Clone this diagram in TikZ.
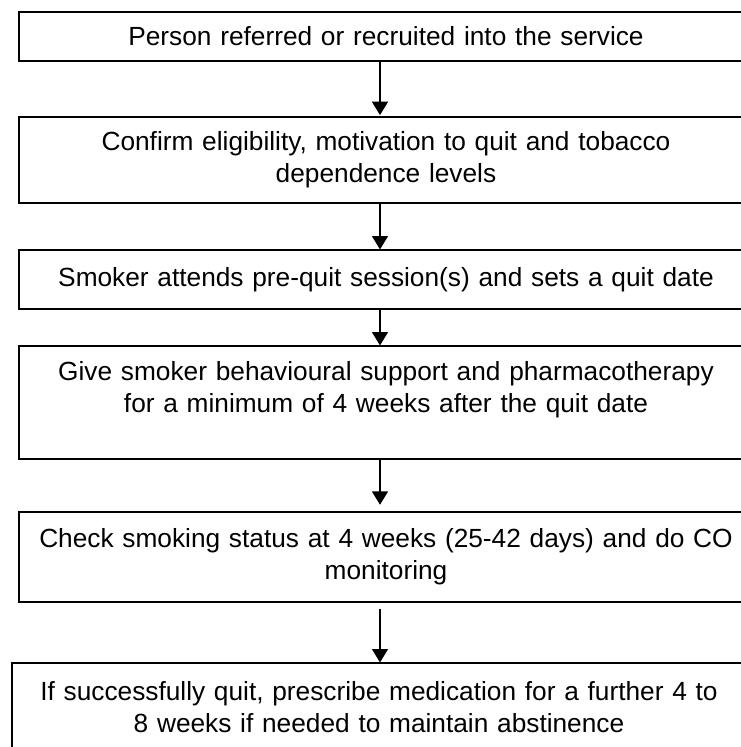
\documentclass[tikz,border=0pt]{standalone}
\usepackage{fontspec}
\setmainfont{Liberation Sans}
\usetikzlibrary{arrows.meta}

\begin{document}
\begin{tikzpicture}[x=0.75pt, y=-0.75pt,
  stage/.style={draw, line width=0.9pt, rectangle, inner sep=0pt, minimum width=550.5pt,
    text width=548pt, align=center, font=\fontsize{19.7}{24}\selectfont},
  flow/.style={line width=0.9pt, -{Triangle[width=12pt, length=10pt]}}]
\useasboundingbox (0,0) rectangle (741,747);
\clip (0,0) rectangle (741,747);
\node[stage, minimum height=36.75pt] (referred) at (386, 36.5) {Person referred or recruited into the service};
\node[stage, minimum height=64.5pt] (eligible) at (386, 160) {Confirm eligibility, motivation to quit and tobacco\\ dependence levels};
\node[stage, minimum height=44.25pt] (prequit) at (386, 279.5) {Smoker attends pre-quit session(s) and sets a quit date};
\node[stage, minimum height=84.75pt] (support) at (386, 402.5) {Give smoker behavioural support and pharmacotherapy\\ for a minimum of 4 weeks after the quit date\\ \mbox{}};
\node[stage, minimum height=67.5pt] (check) at (386, 557) {Check smoking status at 4 weeks (25-42 days) and do CO\\ monitoring};
\node[stage, minimum height=66pt] (further) at (379, 707) {If successfully quit, prescribe medication for a further 4 to\\ 8 weeks if needed to maintain abstinence};
\coordinate (axis) at (380, 0);
\draw[flow] (referred.south -| axis) -- ([yshift=1pt]eligible.north -| axis);
\draw[flow] (eligible.south -| axis) -- (prequit.north -| axis);
\draw[flow] (prequit.south -| axis) -- (support.north -| axis);
\draw[flow, shorten >=5pt] (support.south -| axis) -- (check.north -| axis);
\draw[flow, shorten <=4.5pt] (check.south -| axis) -- (further.north -| axis);
\end{tikzpicture}
\end{document}
